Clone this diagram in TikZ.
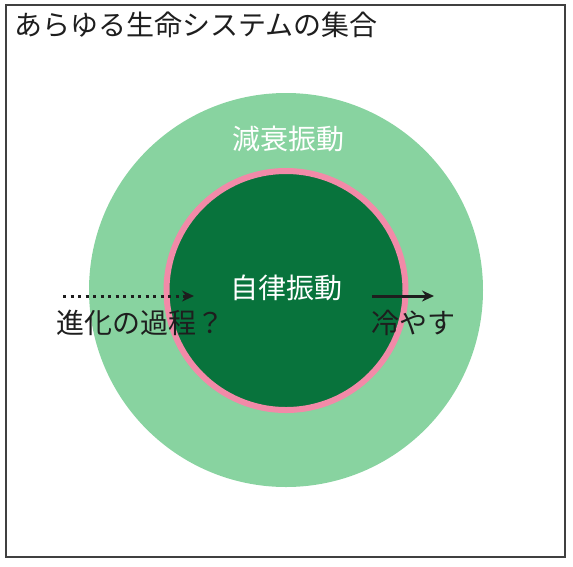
\documentclass[tikz,border=0pt]{standalone}
\usepackage{fontspec}
\setmainfont{Noto Sans CJK JP}
\usetikzlibrary{arrows.meta}
\definecolor{lightgreen}{HTML}{88D3A0}
\definecolor{darkgreen}{HTML}{08733C}
\definecolor{ringpink}{HTML}{F28AA8}
\definecolor{inkgray}{HTML}{1E1E1E}
\begin{document}
\begin{tikzpicture}[x=1pt,y=-1pt]

      \useasboundingbox (0,0) rectangle (573,566);
      \draw[line width=1.5pt,draw=inkgray!85] (6,5) rectangle (565,557);

      \fill[lightgreen] (286,290) circle (197);
      \draw[fill=darkgreen,draw=ringpink,line width=6pt] (286,290.5) circle (119.5);

      \begin{scope}[every node/.style={inner sep=0pt,font=\fontsize{28}{32}\selectfont}]
        \node[anchor=west,text=inkgray] (all) at (14,25)  {あらゆる生命システムの集合};
        \node[text=white] (decay)  at (288,139) {減衰振動};
        \node[text=white] (self)   at (286,288) {自律振動};
        \node[text=inkgray] (evo)  at (140,323) {進化の過程？};
        \node[text=inkgray] (cool) at (413,323) {冷やす};
      \end{scope}

      \coordinate (evoA) at (63,296);
      \coordinate (evoB) at (194,296);
      \coordinate (coolA) at (372,296);
      \coordinate (coolB) at (434,296);

      \begin{scope}[every edge/.style={draw=inkgray,line width=3pt}]
        \path (evoA) edge[dash pattern=on 3pt off 4.5pt,-{Stealth[length=12pt,width=11pt]}] (evoB);
        \path (coolA) edge[-{Stealth[length=12pt,width=11pt]}] (coolB);
      \end{scope}

    \end{tikzpicture}
\end{document}
